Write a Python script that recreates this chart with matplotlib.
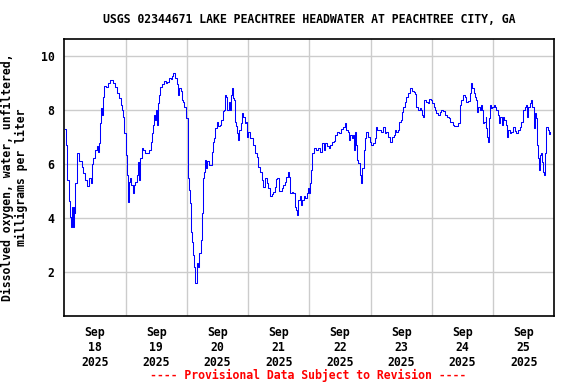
import matplotlib
matplotlib.use("Agg")
import matplotlib.pyplot as plt

# hours since 2025-09-18 00:00 and dissolved oxygen (mg/L)
hours = [0.27, 0.67, 1.17, 1.96, 2.23, 2.51, 3.01, 3.29, 3.80, 4.19, 4.31, 4.85, 5.09, 5.64,
         6.42, 6.81, 7.44, 7.99, 8.77, 9.55, 9.79, 10.34, 10.84, 11.35, 12.02, 12.69, 13.19,
         13.70, 13.98, 14.25, 14.64, 15.03, 15.66, 16.33, 17.23, 17.89, 18.56, 19.18, 19.85,
         20.75, 21.53, 22.20, 22.71, 23.10, 23.49, 24.04, 24.43, 24.82, 25.21, 25.72, 26.23,
         26.78, 27.29, 27.80, 28.35, 28.85, 29.13, 29.36, 29.64, 30.30, 30.93, 31.60, 32.50,
         33.28, 33.83, 34.34, 34.85, 35.24, 35.63, 35.90, 36.18, 36.57, 36.96, 37.47, 38.25,
         39.03, 39.82, 40.33, 40.87, 41.66, 42.17, 42.68, 43.34, 44.01, 44.63, 45.02, 45.57,
         45.97, 46.08, 46.59, 46.86, 47.25, 47.65, 48.43, 48.94, 49.33, 49.72, 50.11, 50.51,
         50.90, 51.29, 51.84, 52.46, 52.86, 53.40, 53.79, 54.19, 54.70, 55.09, 55.48, 55.99,
         56.54, 57.32, 57.71, 58.10, 58.61, 59.12, 59.67, 60.18, 60.96, 61.47, 62.02, 62.53,
         62.80, 63.31, 63.82, 64.37, 64.88, 65.15, 65.54, 65.94, 66.45, 66.72, 67.23, 67.73,
         68.12, 68.52, 69.06, 69.46, 70.08, 70.63, 71.14, 71.41, 71.92, 72.70, 73.49, 74.00,
         74.66, 75.33, 75.96, 76.62, 77.29, 77.91, 78.58, 79.24, 79.87, 80.54, 81.20, 81.83,
         82.38, 82.88, 83.39, 83.94, 84.72, 85.23, 85.74, 86.41, 87.07, 87.70, 88.09, 88.64,
         89.15, 89.66, 90.33, 90.99, 91.38, 91.77, 92.28, 92.79, 93.34, 93.85, 94.36, 94.91,
         95.53, 95.93, 96.47, 96.86, 97.26, 97.77, 98.55, 99.45, 100.12, 100.90, 101.68,
         102.19, 102.97, 103.76, 104.30, 104.81, 105.60, 106.11, 106.89, 107.67, 108.45,
         109.24, 110.02, 110.57, 111.19, 111.58, 112.13, 112.64, 113.15, 113.54, 113.93,
         114.48, 114.87, 115.26, 115.77, 116.28, 116.83, 117.34, 117.85, 118.39, 119.02,
         119.69, 120.35, 120.98, 121.65, 122.04, 122.55, 123.33, 124.27, 124.90, 125.56,
         126.23, 126.85, 127.52, 128.30, 129.08, 129.59, 130.14, 130.77, 131.16, 131.83,
         132.22, 132.73, 133.39, 134.06, 134.68, 135.35, 136.13, 136.92, 137.42, 137.97,
         138.60, 139.26, 139.93, 140.32, 140.56, 140.83, 141.62, 142.40, 142.91, 143.58,
         144.24, 144.75, 145.26, 145.80, 146.43, 147.10, 147.76, 148.39, 149.17, 149.96,
         150.74, 151.29, 151.80, 152.30, 152.85, 153.63, 154.26, 154.93, 155.20, 155.59,
         156.22, 156.88, 157.55, 158.18, 158.84, 159.51, 159.90, 160.41, 160.92, 161.47,
         161.86, 162.25, 162.76, 163.27, 163.82, 164.05, 164.60, 165.11, 165.39, 165.78,
         166.01, 166.41, 166.68, 167.19, 167.74, 168.25, 168.75, 169.30, 169.81, 170.32,
         170.87, 171.38, 171.89, 172.44, 172.94, 173.45, 174.00, 174.51, 175.18, 175.80,
         176.47, 177.14, 177.76, 178.43, 179.10, 179.72, 180.39, 180.78, 181.29, 181.68,
         182.35, 182.86, 183.39, 183.90, 184.17, 184.56, 184.95, 185.19, 185.58, 185.97,
         186.36, 186.91, 187.30, 187.69, 188.09, 188.48, 188.87, 189.38, 189.89, 190.44]
do_mgl = [7.29, 6.70, 5.41, 4.64, 4.05, 3.68, 4.42, 3.68, 4.42, 4.17, 5.28, 5.66, 6.40, 6.11,
          6.12, 5.90, 5.68, 5.41, 5.20, 5.20, 5.47, 5.28, 5.99, 6.21, 6.52, 6.68, 6.46,
          6.77, 7.51, 8.09, 7.81, 8.49, 8.90, 8.86, 8.99, 9.11, 9.10, 8.99, 8.86,
          8.62, 8.43, 8.19, 8.00, 7.75, 7.14, 6.33, 5.59, 4.60, 5.34, 5.47, 5.22,
          4.91, 5.22, 5.34, 5.59, 6.09, 5.70, 5.41, 6.21, 6.58, 6.52, 6.40, 6.40,
          6.52, 6.83, 7.14, 7.44, 7.81, 7.63, 8.00, 7.44, 8.25, 8.56, 8.86, 8.95,
          9.07, 9.00, 9.05, 9.20, 9.15, 9.27, 9.38, 9.20, 8.95, 8.56, 8.83, 8.69,
          8.49, 8.37, 8.30, 8.12, 8.12, 7.69, 5.47, 5.04, 4.54, 3.49, 3.12, 2.63,
          2.20, 1.58, 2.32, 2.20, 2.69, 3.19, 4.17, 5.47, 5.72, 6.15, 5.84, 6.10,
          5.98, 5.98, 6.46, 6.83, 6.95, 7.32, 7.57, 7.42, 7.44, 7.63, 7.96, 8.00,
          8.56, 8.49, 8.00, 8.30, 8.00, 8.56, 8.80, 8.43, 8.37, 7.57, 7.42, 7.14,
          6.89, 7.26, 7.51, 7.88, 7.75, 7.51, 7.57, 7.01, 7.20, 6.95, 6.95, 6.70,
          6.40, 6.27, 5.90, 5.72, 5.41, 5.16, 5.47, 5.28, 5.10, 4.83, 4.88, 4.98,
          5.16, 5.44, 5.49, 4.99, 4.99, 5.10, 5.22, 5.34, 5.53, 5.72, 5.53, 4.91,
          4.96, 4.91, 4.42, 4.30, 4.11, 4.67, 4.80, 4.49, 4.67, 4.80, 4.73, 4.92,
          5.10, 4.92, 5.28, 5.78, 6.40, 6.58, 6.52, 6.58, 6.46, 6.77, 6.52,
          6.77, 6.65, 6.58, 6.70, 6.83, 6.85, 7.07, 7.20, 7.14, 7.30,
          7.38, 7.51, 7.26, 7.20, 6.89, 7.07, 6.95, 7.07, 6.52, 7.20,
          6.70, 6.15, 6.02, 5.59, 5.28, 5.84, 6.52, 6.95, 7.20, 7.01,
          6.83, 6.70, 6.77, 6.95, 7.38, 7.26, 7.26, 7.20, 7.38, 7.14,
          7.20, 7.01, 6.83, 7.01, 7.07, 7.26, 7.20, 7.26, 7.57, 7.63,
          7.94, 8.12, 8.30, 8.49, 8.62, 8.80, 8.70, 8.68, 8.60, 8.12,
          8.00, 8.06, 8.00, 7.81, 7.75, 8.37, 8.30, 8.25, 8.39, 8.37,
          8.25, 8.12, 8.00, 7.88, 7.81, 7.94, 8.00, 7.97, 7.81, 7.75,
          7.69, 7.55, 7.57, 7.44, 7.42, 7.42, 7.51, 7.63, 8.19, 8.37,
          8.56, 8.49, 8.30, 8.35, 8.62, 8.99, 8.80, 8.62, 8.49, 8.37,
          7.94, 8.12, 8.00, 8.19, 8.00, 7.51, 7.55, 7.75, 7.32, 7.01,
          6.80, 7.70, 8.19, 8.06, 8.12, 8.19, 8.12, 8.00, 7.81, 7.51,
          7.75, 7.44, 7.75, 7.63, 7.44, 7.01, 7.26, 7.14, 7.20, 7.38,
          7.22, 7.14, 7.26, 7.38, 7.57, 8.00, 8.12, 8.19, 7.75, 8.12,
          8.25, 8.37, 8.12, 7.88, 7.32, 7.88, 7.69, 6.70, 6.21, 5.78,
          6.33, 6.40, 6.09, 5.72, 5.59, 6.40, 7.38, 7.26, 7.10, 7.20]

day_labels = ["Sep\n18\n2025", "Sep\n19\n2025", "Sep\n20\n2025", "Sep\n21\n2025",
              "Sep\n22\n2025", "Sep\n23\n2025", "Sep\n24\n2025", "Sep\n25\n2025"]
y_ticks = [2, 4, 6, 8, 10]

title = "USGS 02344671 LAKE PEACHTREE HEADWATER AT PEACHTREE CITY, GA"
ylabel = "Dissolved oxygen, water, unfiltered,\nmilligrams per liter"
footer = "---- Provisional Data Subject to Revision ----"

plt.rcParams['font.family'] = 'DejaVu Sans Mono'
plt.rcParams['font.weight'] = 'bold'
fs = 8.3

fig = plt.figure(figsize=(5.76, 3.84), dpi=100)
ax = fig.add_axes([0.1116, 0.1771, 0.8507, 0.7206])

ax.plot(hours, do_mgl, color='#0000ff', linewidth=0.75, drawstyle='steps-post')

ax.set_xlim(0, 24 * len(day_labels))
ax.set_ylim(0.37, 10.62)

# gridlines at midnight, labels at noon
ax.set_xticks([24 * i for i in range(1, len(day_labels))])
ax.set_xticks([24 * i + 12 for i in range(len(day_labels))], minor=True)
ax.set_xticklabels([], minor=False)
ax.set_xticklabels(day_labels, minor=True, fontsize=fs, fontweight='bold', linespacing=1.2)
ax.set_yticks(y_ticks)
ax.set_yticklabels([str(v) for v in y_ticks], fontsize=fs, fontweight='bold')
ax.tick_params(axis='both', which='both', length=0)
ax.tick_params(axis='x', which='minor', pad=7)
ax.tick_params(axis='y', pad=7)

ax.grid(True, which='major', color='#cccccc', linewidth=1.0)
ax.set_axisbelow(True)
for s in ax.spines.values():
    s.set_linewidth(1.2)
    s.set_color('black')

ax.set_ylabel(ylabel, fontsize=fs, fontweight='bold', labelpad=9, linespacing=1.15)
fig.text(0.537, 0.949, title, ha='center', va='center', fontsize=fs, fontweight='bold')
fig.text(0.535, 0.022, footer, ha='center', va='center', fontsize=fs, fontweight='bold',
         color='red')

plt.savefig("out.png", dpi=100)
